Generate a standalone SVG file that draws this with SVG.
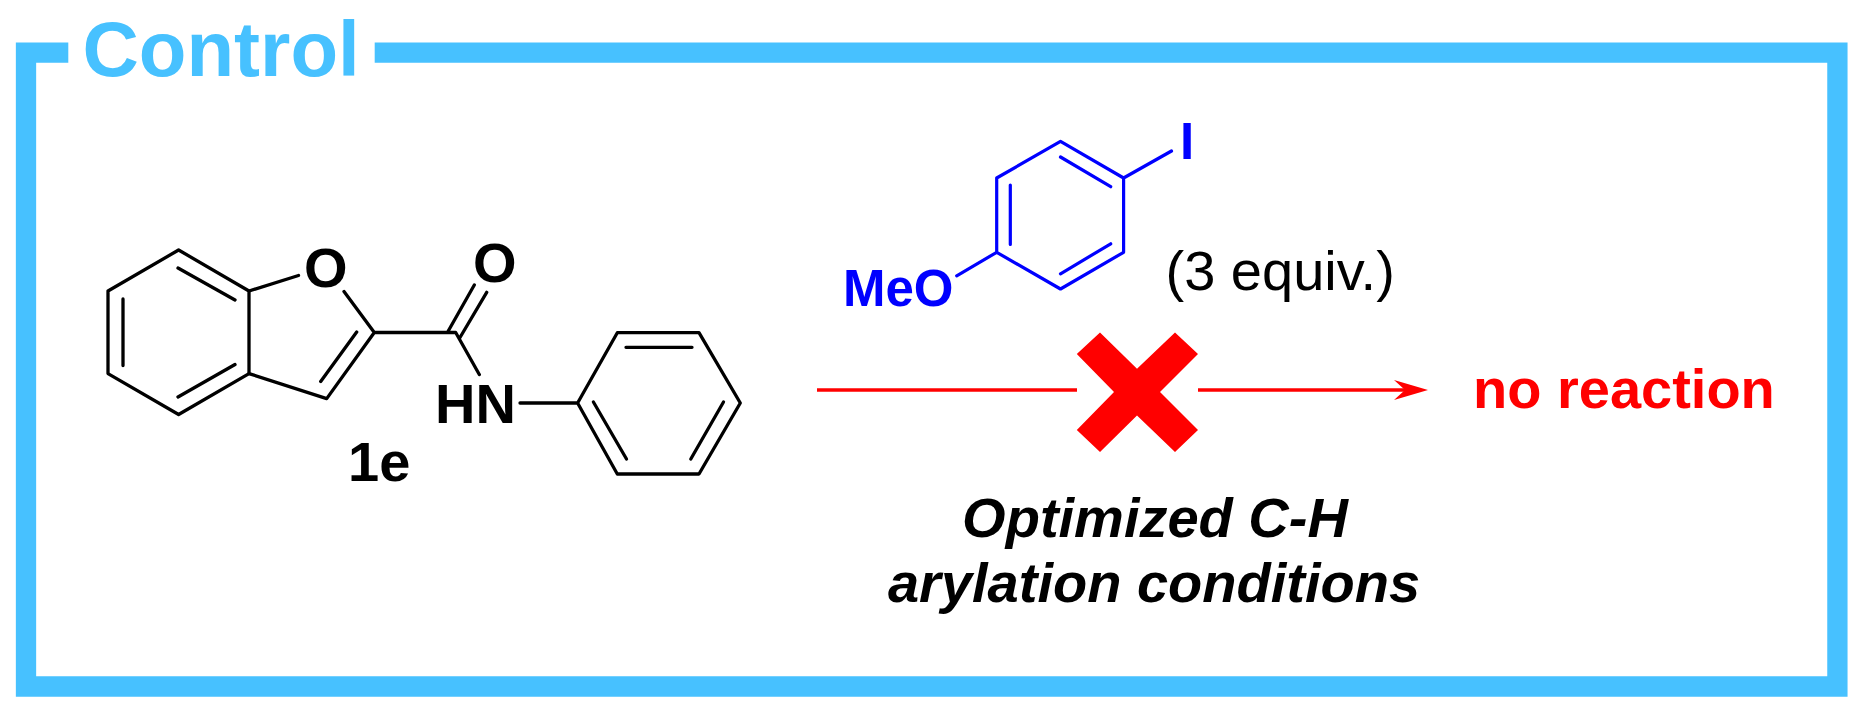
<svg xmlns="http://www.w3.org/2000/svg" width="1864" height="712" viewBox="0 0 1864 712">
<style>
text{font-family:"Liberation Sans",Arial,sans-serif}
.b{font-weight:700}
.k{fill:none;stroke:#000;stroke-width:3.3;stroke-linecap:round;stroke-linejoin:round}
.u{fill:none;stroke:#0000ff;stroke-width:3.2;stroke-linecap:round;stroke-linejoin:round}
.bt{fill:#000;font-size:56px;font-weight:700}
.ut{fill:#0000ff;font-size:51px;font-weight:700}
.it{fill:#000;font-size:56px;font-weight:700;font-style:italic}
</style>
<defs><marker id="head" markerUnits="userSpaceOnUse" markerWidth="36" markerHeight="22" refX="14" refY="10" orient="auto"><path d="M0 0L34 10L0 20L11 10Z" fill="#ff0000"/></marker></defs>
<rect width="1864" height="712" fill="#fff"/>
<g id="frame">
<path d="M68.3 52.7H26V686.5H1837.4V52.7H374.7" fill="none" stroke="#47c1ff" stroke-width="20.3"/>
<text x="82.5" y="76" class="b" font-size="78" fill="#47c1ff">Control</text>
</g>
<g id="substrate-1e">
<path class="k" d="M178.6 250L108 291V373.6L178.6 414.5L249 373.6V291ZM178 268L235 300M123 299V365.5M178 397L235 364.5"/>
<path class="k" d="M249 291L298.5 275.5M344 291.5L374.3 332.5L326.7 398.6L249 373.6M356.7 332L320.7 381.5M374.3 332.5H455.7L479.3 374.5M447.7 332L474.3 285M460 337.5L486.7 292.3"/>
<path class="k" d="M520 403H577.6L617.3 332.7H699L740.3 403L699 474H617.3L577.6 403M626 347.3H692M593.4 402L626.5 459M723.5 402L690.8 459"/>
<text x="304" y="286.6" class="bt">O</text>
<text x="473" y="282" class="bt">O</text>
<text x="435" y="423.3" class="bt">HN</text>
<text x="348" y="480.7" class="bt">1e</text>
</g>
<g id="reagent">
<path class="u" d="M1060.5 141.4L1123.6 178V252.3L1060.5 289L996.7 252.3V178ZM1060.5 157L1110.7 186.7M1110.7 243.8L1060.5 273.8M1010.3 185V244.5M1123.6 178L1171.5 151M996.7 252.3L956.7 275.8"/>
<text x="1180" y="159.3" class="ut">I</text>
<text x="843" y="306" class="ut">MeO</text>
<text x="1165.5" y="290" font-size="56" fill="#000">(3 equiv.)</text>
</g>
<g id="connectors">
<line x1="817" y1="390" x2="1077" y2="390" stroke="#ff0000" stroke-width="3.5"/>
<line x1="1198" y1="390" x2="1408" y2="390" stroke="#ff0000" stroke-width="3.5" marker-end="url(#head)"/>
</g>
<g id="cross">
<path fill="#ff0000" d="M1076.8 354L1100 332.4L1137 368.8L1175 332.4L1198 354L1160 392L1198 430L1175 452L1137 415.6L1100 452L1076.8 430L1114 392Z"/>
</g>
<g id="result"><text x="1473" y="408" class="b" font-size="56" fill="#ff0000">no reaction</text></g>
<g id="conditions">
<text x="1155" y="536.5" text-anchor="middle" class="it">Optimized C-H</text>
<text x="1154" y="602" text-anchor="middle" class="it">arylation conditions</text>
</g>
</svg>
